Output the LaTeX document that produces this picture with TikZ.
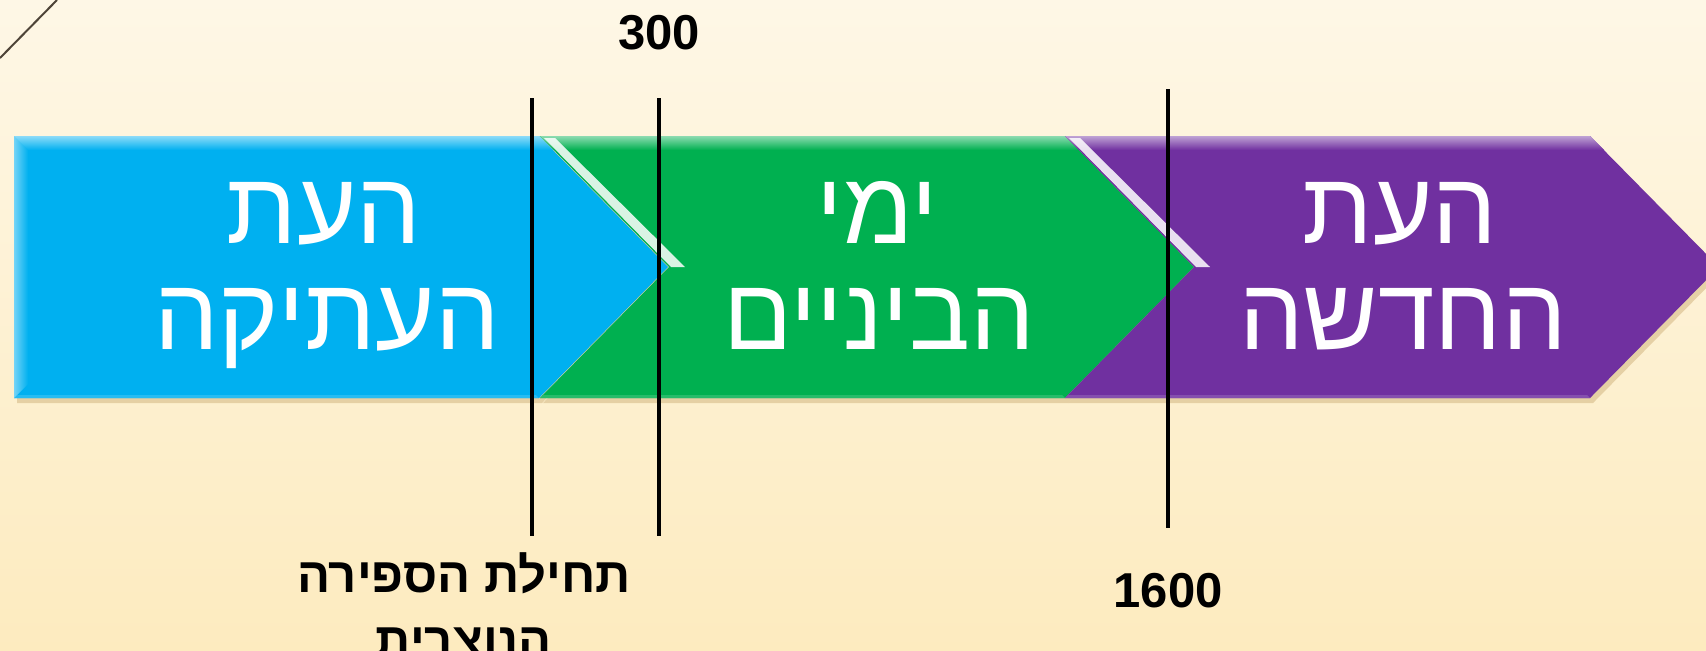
\documentclass[tikz,border=0pt]{standalone}
\usepackage{fontspec}
\setmainfont{Liberation Sans}
\newfontfamily\hebfont[Script=Hebrew]{Liberation Sans}
\TeXXeTstate=1
\usetikzlibrary{calc}
\usepackage{xcolor}
\definecolor{bgtop}{HTML}{FEF7E6}
\definecolor{bgbot}{HTML}{FDEBBF}
\definecolor{shadowtan}{HTML}{DCC393}
\definecolor{cornerline}{HTML}{4E4438}
\definecolor{antblue}{HTML}{00B0F0}
\definecolor{midgreen}{HTML}{00B050}
\definecolor{modpurple}{HTML}{7030A0}

\newcommand{\heb}[1]{\beginR #1\endR}

\begin{document}
\begin{tikzpicture}[x=0.5pt, y=-0.5pt,
  era/.style={text=white, inner sep=0pt, font=\hebfont\fontsize{51}{51}\selectfont},
  datelbl/.style={text=black, inner sep=0pt, font=\hebfont\bfseries\fontsize{24.5}{25}\selectfont},
  divider/.style={line width=2pt, black},
]

\useasboundingbox (0,0) rectangle (1706,650);
\shade[top color=bgtop, bottom color=bgbot] (0,0) rectangle (1706,650);
\draw[cornerline, line width=1pt] (0,58) -- (57,0);

% soft shadows first
\foreach \xa/\nd in {14/0, 540/129, 1065/129}
  \fill[shadowtan, opacity=.7] (\xa+3,141) -- ++(525,0) -- ++(129,131) -- ++(-129,131)
    -- ++(-525,0) -- ++(\nd,-131) -- cycle;

% the three chevrons
\foreach \xa/\nd/\col in {14/0/antblue, 540/129/midgreen, 1065/129/modpurple} {
  \fill[\col] (\xa,136) -- ++(525,0) -- ++(129,131) -- ++(-129,131)
    -- ++(-525,0) -- ++(\nd,-131) -- cycle;
  \shade[top color=\col!45!white, bottom color=\col]
    (\xa,136) -- ++(525,0) -- ++(14,14) -- (\xa+\nd*0.11,150) -- cycle;
  \fill[\col!85!white] (\xa,398) -- ++(525,0) -- ++(-3,-3) -- (\xa+3,395) -- cycle;
}
\shade[left color=antblue!55!white, right color=antblue] (14,136) -- (28,150) -- (28,384) -- (14,398) -- cycle;

% highlights on the notches
\foreach \xa in {540, 1065}
  \fill[white, opacity=.85] (\xa+4,138) -- (\xa+15,138) -- (\xa+145,267) -- (\xa+131,267) -- cycle;

% era names
\node[era, anchor=base] (antiq1) at (324,243) {\heb{העת}};
\node[era, anchor=base] (antiq2) at (327,349) {\heb{העתיקה}};
\node[era, anchor=base] (middle1) at (877,243) {\heb{ימי}};
\node[era, anchor=base] (middle2) at (879,349) {\heb{הביניים}};
\node[era, anchor=base] (modern1) at (1400,243) {\heb{העת}};
\node[era, anchor=base] (modern2) at (1403,349) {\heb{החדשה}};

% dividing years
\coordinate (ceTop) at (532,98);   \coordinate (ceBot) at (532,536);
\coordinate (y300Top) at (659,98); \coordinate (y300Bot) at (659,536);
\coordinate (y1600Top) at (1168,89); \coordinate (y1600Bot) at (1168,528);
\foreach \a/\b in {ceTop/ceBot, y300Top/y300Bot, y1600Top/y1600Bot}
  \draw[divider] (\a) -- (\b);

\node[datelbl] (y300) at (659,33) {300};
\node[datelbl] (y1600) at (1168,591) {1600};
\node[datelbl, anchor=base] (ceLbl1) at (464,592) {\heb{תחילת הספירה}};
\node[datelbl, anchor=base] (ceLbl2) at (464,657) {\heb{הנוצרית}};

\end{tikzpicture}
\end{document}
